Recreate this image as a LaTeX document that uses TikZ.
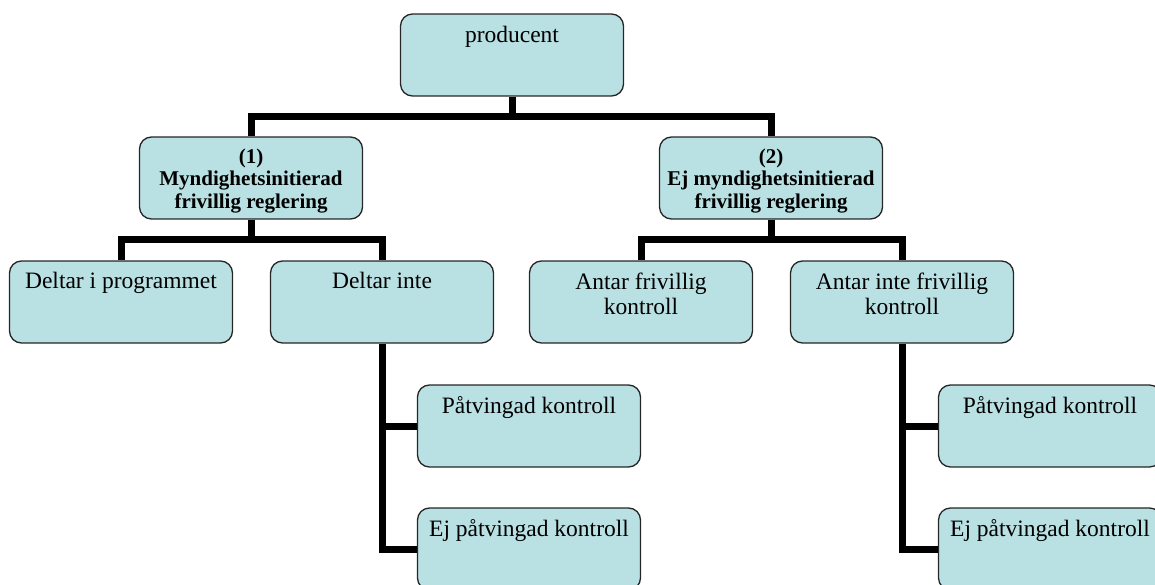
\documentclass[tikz,border=0pt]{standalone}
\usepackage{fontspec}
\setmainfont{Liberation Serif}
\usetikzlibrary{positioning}
\definecolor{boxfill}{RGB}{185,224,227}

\begin{document}
\begin{tikzpicture}[x=1pt,y=-1pt]
\tikzstyle{box} = [rectangle, draw=black!85, line width=1.3pt, fill=boxfill,
rounded corners=12pt, minimum width=223pt, minimum height=82pt, inner sep=0pt]
\tikzstyle{txt} = [anchor=north, inner sep=0pt, align=center,
font=\fontsize{23.5}{25}\selectfont]
\tikzstyle{btxt} = [txt, font=\fontsize{21}{22.5}\selectfont\bfseries]
\tikzstyle{line} = [draw, line width=7pt];
\useasboundingbox (0,0) rectangle (1155,585);
% level 0
\node [box] (prod) at (512,55) {};
\node [txt, below=13pt of prod.north] (prod-t) {producent};
% level 1
\node [box] (myn) at (251,178) {};
\node [btxt, below=12pt of myn.north] (myn-t) {(1)\\Myndighetsinitierad\\frivillig reglering};
\node [box] (ejmyn) at (771,178) {};
\node [btxt, below=12pt of ejmyn.north] (ejmyn-t) {(2)\\Ej myndighetsinitierad\\frivillig reglering};
% level 2
\node [box] (deltar) at (121,302) {};
\node [txt, below=12pt of deltar.north] (deltar-t) {Deltar i programmet};
\node [box] (deltarinte) at (382,302) {};
\node [txt, below=12pt of deltarinte.north] (deltarinte-t) {Deltar inte};
\node [box] (antar) at (641,302) {};
\node [txt, below=12pt of antar.north] (antar-t) {Antar frivillig\\kontroll};
\node [box] (antarinte) at (902,302) {};
\node [txt, below=12pt of antarinte.north] (antarinte-t) {Antar inte frivillig\\kontroll};
% level 3
\node [box] (patv1) at (529,426) {};
\node [txt, below=12pt of patv1.north] (patv1-t) {Påtvingad kontroll};
\node [box] (ejpatv1) at (529,549) {};
\node [txt, below=12pt of ejpatv1.north] (ejpatv1-t) {Ej påtvingad kontroll};
\node [box] (patv2) at (1050,426) {};
\node [txt, below=12pt of patv2.north] (patv2-t) {Påtvingad kontroll};
\node [box] (ejpatv2) at (1050,549) {};
\node [txt, below=12pt of ejpatv2.north] (ejpatv2-t) {Ej påtvingad kontroll};

\tikzstyle{every path}=[line]
\path (prod.south) -- ++(0,20) -| (myn.north);
\path (prod.south) -- ++(0,20) -| (ejmyn.north);
\path (myn.south) -- ++(0,20) -| (deltar.north);
\path (myn.south) -- ++(0,20) -| (deltarinte.north);
\path (ejmyn.south) -- ++(0,20) -| (antar.north);
\path (ejmyn.south) -- ++(0,20) -| (antarinte.north);
\path (deltarinte.south) |- (patv1.west);
\path (deltarinte.south) |- (ejpatv1.west);
\path (antarinte.south) |- (patv2.west);
\path (antarinte.south) |- (ejpatv2.west);
\end{tikzpicture}
\end{document}
